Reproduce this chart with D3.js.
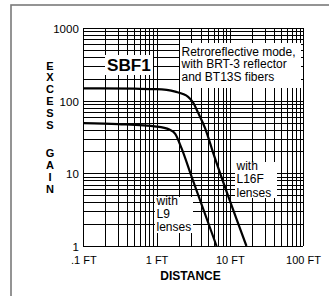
<!DOCTYPE html>
<html>
<head>
<meta charset="utf-8">
<script src="https://cdn.jsdelivr.net/npm/d3@7"></script>
<style>
  body { margin: 0; background: #fff; }
  svg text { font-family: "Liberation Sans", Arial, sans-serif; }
</style>
</head>
<body>
<div class="chart"></div>
<script>
// data (distance in FT, excess gain)
const l16fDist = [0.1, 0.5, 1, 1.8, 2.7, 3.2, 3.7, 4.6, 6, 16.9];
const l16fGain = [148, 146, 144, 133, 113, 92, 68, 42, 18.5, 1];
const l9Dist = [0.1, 0.3, 1, 1.5, 1.8, 2.2, 3, 6.6];
const l9Gain = [49, 47.5, 44, 40, 35, 22, 9.1, 1];

const xTickValues = [0.1, 1, 10, 100];
const xTickLabels = [".1 FT", "1 FT", "10 FT", "100 FT"];
const yTickValues = [1, 10, 100, 1000];
const yTickLabels = ["1", "10", "100", "1000"];

const yTitle = ["E", "X", "C", "E", "S", "S", "", "G", "A", "I", "N"];
const noteRetro = ["Retroreflective mode,", "with BRT-3 reflector", "and BT13S fibers"];
const noteL16F = ["with", "L16F", "lenses"];
const noteL9 = ["with", "L9", "lenses"];

const W = 329, H = 296;
const margin = {top: 28, right: 26, bottom: 50, left: 83.3};
const w = 303 - margin.left, h = 246 - margin.top;

const svg = d3.select(".chart").append("svg")
    .attr("width", W).attr("height", H);

// outer frame (runs off the right and bottom edges)
svg.append("rect")
    .attr("x", 11).attr("y", 5)
    .attr("width", 340).attr("height", 320)
    .attr("fill", "none")
    .attr("stroke", "#7a7a7a")
    .attr("stroke-width", 1.6);

const g = svg.append("g")
    .attr("transform", `translate(${margin.left},${margin.top})`);

const x = d3.scaleLog().domain([0.1, 100]).range([0, w]);
const y = d3.scaleLog().domain([1, 1000]).range([h, 0]);

// grid, drawn with axes
const xGrid = d3.axisBottom(x).tickValues(x.ticks()).tickSize(-h).tickFormat("");
const yGrid = d3.axisLeft(y).tickValues(y.ticks()).tickSize(-w).tickFormat("");

g.append("g").attr("transform", `translate(0,${h})`).call(xGrid)
  .call(s => s.select(".domain").remove());
g.append("g").call(yGrid)
  .call(s => s.select(".domain").remove());
g.selectAll(".tick line")
    .attr("stroke", "#000")
    .attr("stroke-width", 1)
    .attr("shape-rendering", "crispEdges");

// tick labels
const xAxis = d3.axisBottom(x).tickValues(xTickValues).tickSize(0).tickPadding(10)
    .tickFormat((d, i) => xTickLabels[i]);
g.append("g").attr("transform", `translate(0,${h})`).call(xAxis)
  .call(s => s.select(".domain").remove())
  .selectAll("text")
    .attr("font-family", "Liberation Sans, Arial, sans-serif")
    .attr("font-size", 11)
    .attr("fill", "#000");

const yAxis = d3.axisLeft(y).tickValues(yTickValues).tickSize(0).tickPadding(4.5)
    .tickFormat((d, i) => yTickLabels[i]);
g.append("g").call(yAxis)
  .call(s => s.select(".domain").remove())
  .selectAll("text")
    .attr("font-family", "Liberation Sans, Arial, sans-serif")
    .attr("font-size", 11.5)
    .attr("dy", "0.4em")
    .attr("fill", "#000");

// white note boxes that blank out the grid
function note(x0, y0, bw, bh, lines, tx, ty, step, size, bold) {
  g.append("rect")
      .attr("x", x0 - margin.left).attr("y", y0 - margin.top)
      .attr("width", bw).attr("height", bh)
      .attr("fill", "#fff");
  g.selectAll(null).data(lines).enter().append("text")
      .attr("x", tx - margin.left)
      .attr("y", (d, i) => ty - margin.top + i * step)
      .attr("font-size", size)
      .attr("font-weight", bold ? "bold" : "normal")
      .attr("fill", "#000")
      .text(d => d);
}
note(105, 55, 48, 20, ["SBF1"], 107, 70.7, 0, 17.2, true);
note(180, 43, 121, 45, noteRetro, 181.5, 55.5, 12.8, 12, false);
note(235, 162, 42, 36, noteL16F, 236.5, 170, 13.3, 12, false);
note(155, 197, 38, 36, noteL9, 156.5, 205, 13, 12, false);

// curves
const line = d3.line()
    .curve(d3.curveMonotoneX)
    .x(d => x(d[0]))
    .y(d => y(d[1]));

[[l16fDist, l16fGain], [l9Dist, l9Gain]].forEach(([ds, gs]) => {
  g.append("path")
      .datum(ds.map((d, i) => [d, gs[i]]))
      .attr("fill", "none")
      .attr("stroke", "#000")
      .attr("stroke-width", 2.2)
      .attr("stroke-linejoin", "round")
      .attr("d", line);
});

// axis titles
svg.append("text")
    .attr("x", 190.5).attr("y", 280)
    .attr("text-anchor", "middle")
    .attr("font-size", 12)
    .attr("font-weight", "bold")
    .text("DISTANCE");

svg.selectAll(".ytitle").data(yTitle).enter().append("text")
    .attr("x", 50)
    .attr("y", (d, i) => (i < 6 ? 65.5 + i * 11.8 : 153 + (i - 7) * 12) + 4)
    .attr("text-anchor", "middle")
    .attr("font-size", 11)
    .attr("font-weight", "bold")
    .text(d => d);
</script>
</body>
</html>
